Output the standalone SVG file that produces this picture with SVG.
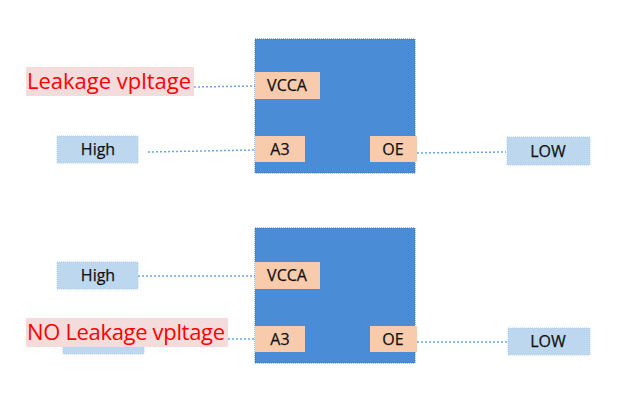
<svg xmlns="http://www.w3.org/2000/svg" width="640" height="400" viewBox="0 0 640 400">
<style>
.chip{fill:#4a8dd6;stroke:#3d77b8;stroke-width:1;stroke-dasharray:1 1}
.pin{fill:#f8cbad}
.sig{fill:#bdd7ee;stroke:#a9ccef;stroke-width:1;stroke-dasharray:1 1}
.t{font-family:"Open Sans","Noto Sans",sans-serif;font-size:16px;fill:#111111;text-anchor:middle;stroke:#111111;stroke-width:0.25}
.lbl{fill:#f4dcdc}
.lt{font-family:"Open Sans","Noto Sans",sans-serif;font-size:22px;fill:#ff0000}
.wire{stroke:#6aa6e6;stroke-width:1.5;stroke-dasharray:2 2;fill:none}
</style>
<g id="connectors">
<line class="wire" x1="194" y1="87" x2="255" y2="86"/>
<line class="wire" x1="148" y1="152" x2="255" y2="150"/>
<line class="wire" x1="417" y1="153" x2="506" y2="152"/>
<line class="wire" x1="138" y1="276" x2="255" y2="276"/>
<line class="wire" x1="228" y1="339" x2="255" y2="339"/>
<line class="wire" x1="417" y1="342" x2="507" y2="342"/>
</g>
<g id="chip1">
<rect class="chip" x="255" y="39" width="160" height="134"/>
<rect class="pin" x="255" y="72" width="65" height="27"/>
<text class="t" x="287" y="91">VCCA</text>
<rect class="pin" x="255" y="136" width="50" height="26"/>
<text class="t" x="280" y="155">A3</text>
<rect class="pin" x="370" y="136" width="47" height="26"/>
<text class="t" x="393" y="155">OE</text>
</g>
<g id="high1">
<rect class="sig" x="57" y="136" width="81" height="27"/>
<text class="t" x="98" y="155">High</text>
</g>
<g id="low1">
<rect class="sig" x="507" y="137" width="83" height="28"/>
<text class="t" x="548" y="157">LOW</text>
</g>
<g id="label1">
<rect class="lbl" x="26" y="67" width="168" height="29"/>
<text class="lt" x="27" y="89" textLength="164" lengthAdjust="spacing">Leakage vpltage</text>
</g>
<g id="chip2">
<rect class="chip" x="255" y="228" width="160" height="135"/>
<rect class="pin" x="255" y="262" width="65" height="27"/>
<text class="t" x="287" y="281">VCCA</text>
<rect class="pin" x="255" y="326" width="50" height="26"/>
<text class="t" x="280" y="345">A3</text>
<rect class="pin" x="370" y="326" width="47" height="26"/>
<text class="t" x="393" y="345">OE</text>
</g>
<g id="high2">
<rect class="sig" x="57" y="262" width="81" height="27"/>
<text class="t" x="98" y="281">High</text>
</g>
<g id="hidden2">
<rect class="sig" x="63" y="326" width="81" height="28"/>
</g>
<g id="low2">
<rect class="sig" x="508" y="328" width="82" height="27"/>
<text class="t" x="548" y="347">LOW</text>
</g>
<g id="label2">
<rect class="lbl" x="26" y="318" width="202" height="29"/>
<text class="lt" x="27" y="340" textLength="198" lengthAdjust="spacing">NO Leakage vpltage</text>
</g>
</svg>
